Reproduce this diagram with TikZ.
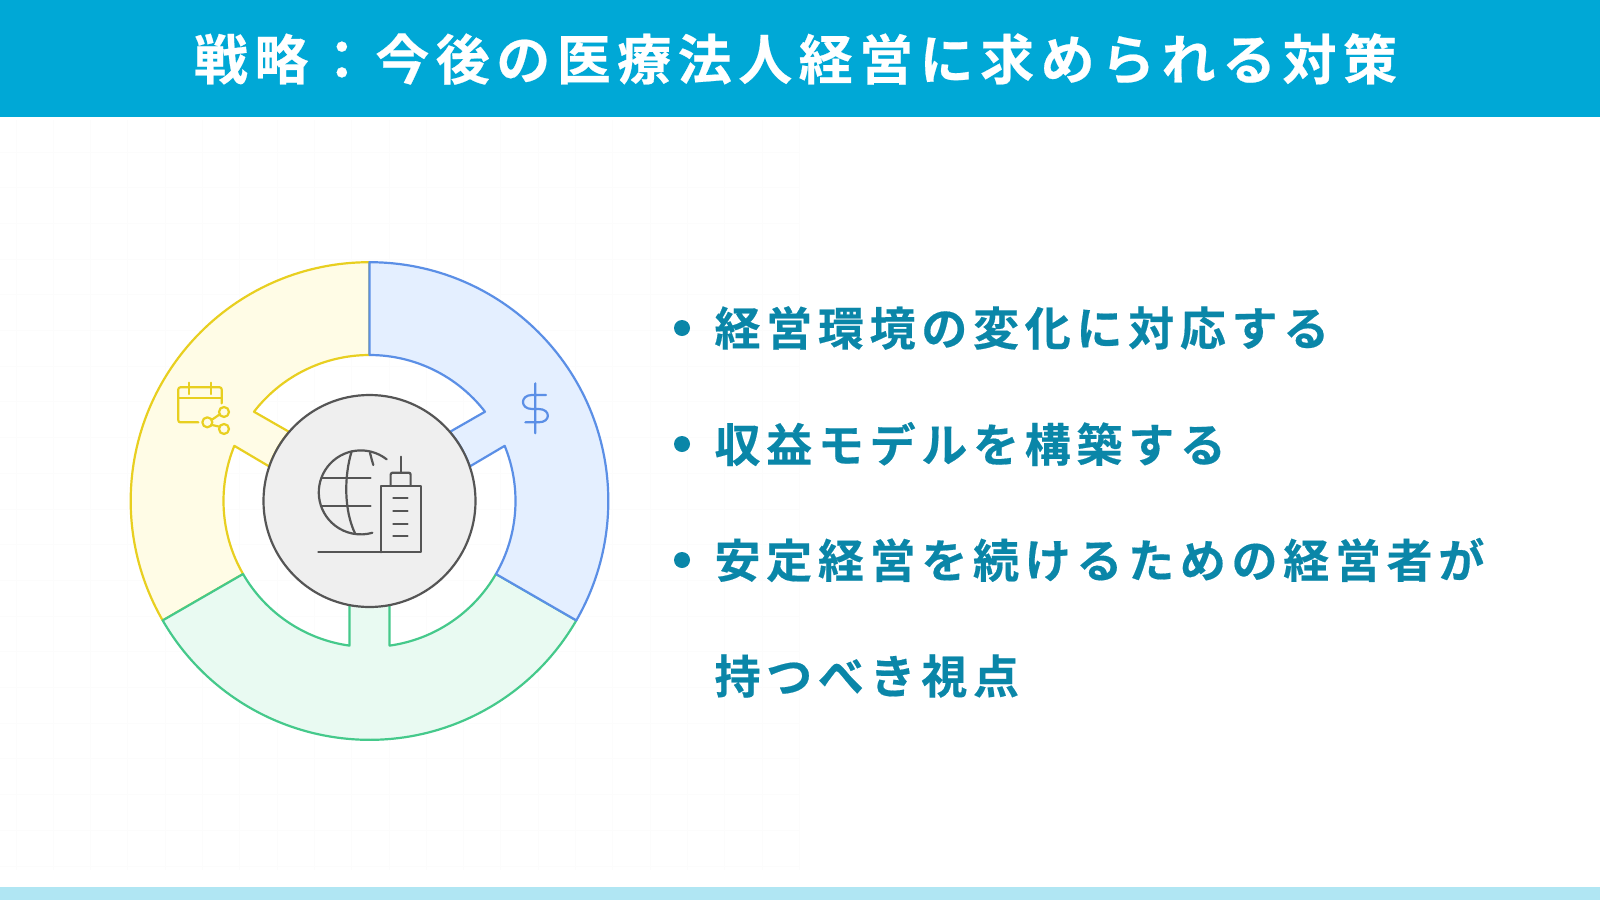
\documentclass[tikz,border=0pt]{standalone}
\usepackage{fontspec}
\setmainfont{Noto Sans CJK JP}[BoldFont={Noto Sans CJK JP Bold}]
\definecolor{titlebg}{HTML}{00A8D6}
\definecolor{footbg}{HTML}{B0E6F3}
\definecolor{txtcol}{HTML}{0A86A8}
\definecolor{gridcol}{HTML}{FCFCFC}
\definecolor{bluefill}{HTML}{E4EFFF}
\definecolor{blueline}{HTML}{5B8FE6}
\definecolor{yelfill}{HTML}{FFFCE6}
\definecolor{yelline}{HTML}{E8CF20}
\definecolor{grnfill}{HTML}{E9FAF2}
\definecolor{grnline}{HTML}{45C98B}
\definecolor{hubfill}{HTML}{EFEFEF}
\definecolor{hubline}{HTML}{555555}
\begin{document}
\begin{tikzpicture}[x=1pt,y=-1pt,line join=round,
  title node/.style={text=white,font=\bfseries\fontsize{54}{54}\selectfont\addfontfeature{LetterSpace=12,FakeBold=0.4}},
  item node/.style={anchor=west,text=txtcol,font=\bfseries\fontsize{46}{46}\selectfont\addfontfeature{LetterSpace=12.4,FakeBold=0.4}},
  dot node/.style={circle,fill=txtcol,inner sep=0pt,minimum size=16},
  hub node/.style={circle,fill=hubfill,draw=hubline,line width=2.2pt,inner sep=0pt,minimum size=212},
  icon/.style={line width=2.2pt,line cap=round}]
  \useasboundingbox (0,0) rectangle (1600,900);
  \fill[white] (0,0) rectangle (1600,900);
  % faint grid behind everything
  \foreach \gridx in {16,53.3,...,800}
    \draw[gridcol,line width=1pt] (\gridx,120) -- (\gridx,870);
  \foreach \gridy in {152,187.7,...,870}
    \draw[gridcol,line width=1pt] (0,\gridy) -- (800,\gridy);
  \fill[titlebg] (0,0) rectangle (1600,117);
  \fill[footbg] (0,887) rectangle (1600,900);
  \node[title node] (title) at (795.5,59) {戦略：今後の医療法人経営に求められる対策};

  % ring, y up from its centre
  \begin{scope}[shift={(369.5,501)},y=1pt,line width=2.2pt]
    \filldraw[fill=yelfill,draw=yelline] (90:238.8) arc[start angle=90,end angle=210,radius=238.8]
      -- (210:146) arc[start angle=210,end angle=157.8,radius=146] -- (161:106)
      arc[start angle=161,end angle=139.3,radius=106] -- (142.3:146)
      arc[start angle=142.3,end angle=90,radius=146] -- cycle;
    \filldraw[fill=grnfill,draw=grnline] (210:238.8) arc[start angle=210,end angle=330,radius=238.8]
      -- (330:146) arc[start angle=330,end angle=277.9,radius=146] -- (20,-104)
      -- (-20,-104) -- (262.1:146) arc[start angle=262.1,end angle=210,radius=146] -- cycle;
    \filldraw[fill=bluefill,draw=blueline] (90:238.8) arc[start angle=90,end angle=-30,radius=238.8]
      -- (-30:146) arc[start angle=-30,end angle=22.2,radius=146] -- (19:106)
      arc[start angle=19,end angle=40.7,radius=106] -- (37.7:146)
      arc[start angle=37.7,end angle=90,radius=146] -- cycle;
    \node[hub node] (hub) at (0,0) {};
  \end{scope}

  % icons, coordinates on a 3x grid
  \begin{scope}[shift={(120,250)},x=0.3333pt,y=-0.3333pt,icon]
    \draw[yelline,rounded corners=2pt] (305,460) -- (305,412) -- (175,412) -- (175,517) -- (235,517);
    \draw[yelline] (175,443) -- (305,443) (207,398) -- (207,432) (273,398) -- (273,432);
    \draw[yelline] (262,517) circle[radius=15] (312,486) circle[radius=15] (312,537) circle[radius=15];
    \draw[yelline] (276,509) -- (298,494) (276,525) -- (298,530);
    \draw[blueline] (1246,400) -- (1246,550) (1278,435) -- (1236,435)
      .. controls (1200,435) and (1200,477) .. (1236,477) -- (1256,477)
      .. controls (1293,477) and (1293,517) .. (1256,517) -- (1216,517);
    \begin{scope}[hubline]
      \draw (800,628) arc[start angle=-52,delta angle=-234,radius=126];
      \draw (605,685) -- (752,685) (605,768) -- (752,768);
      \draw (695,604) .. controls (672,680) and (672,780) .. (705,850);
      \draw (750,608) .. controls (753,620) and (756,632) .. (760,645);
      \draw (595,907) -- (902,907) -- (902,707) -- (782,707) -- (782,907);
      \draw[rounded corners=2pt] (812,707) -- (812,668) -- (872,668) -- (872,707);
      \draw (842,620) -- (842,668);
      \foreach \winy in {745,783,821,859}
        \draw (820,\winy) -- (863,\winy);
    \end{scope}
  \end{scope}

  \node[dot node] (dot1) at (682,328) {};
  \node[dot node] (dot2) at (682,444) {};
  \node[dot node] (dot3) at (682,560) {};
  \node[item node] (item1) at (711,328) {経営環境の変化に対応する};
  \node[item node] (item2) at (711,444) {収益モデルを構築する};
  \node[item node] (item3) at (711,560) {安定経営を続けるための経営者が};
  \node[item node] (item4) at (711,676) {持つべき視点};
\end{tikzpicture}
\end{document}
